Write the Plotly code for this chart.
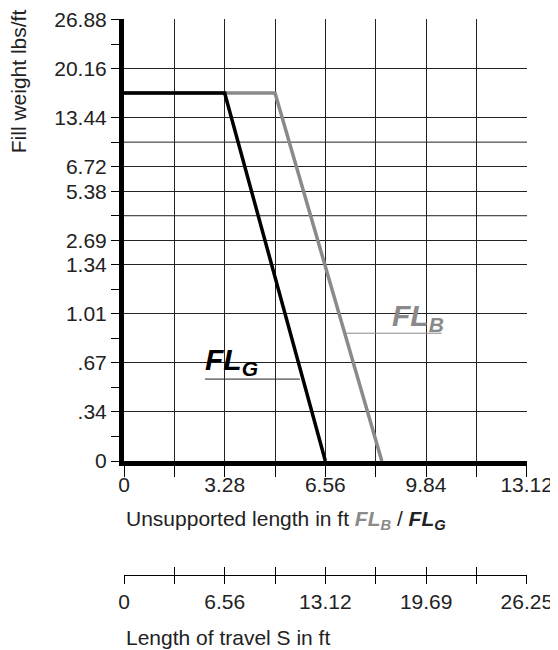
import numpy as np
import plotly.graph_objects as go

# y axis is a piecewise scale: labelled values sit on these grid positions
y_tick_values = [0, 0.34, 0.67, 1.01, 1.34, 2.69, 5.38, 6.72, 13.44, 20.16, 26.88]
y_tick_labels = ['0', '.34', '.67', '1.01', '1.34', '2.69', '5.38', '6.72', '13.44', '20.16', '26.88']
y_tick_pos = [0, 2, 4, 6, 8, 9, 11, 12, 14, 16, 18]
y_minor_pos = [1, 3, 5, 7, 10, 13, 17]
y_extra_grid = [10, 13]

x_ticks = [0, 1.64, 3.28, 4.92, 6.56, 8.2, 9.84, 11.48, 13.12]
x_labels = ['0', '', '3.28', '', '6.56', '', '9.84', '', '13.12']
s_ticks = [0, 3.28, 6.56, 9.84, 13.12, 16.4, 19.69, 22.97, 26.25]
s_labels = ['0', '', '6.56', '', '13.12', '', '19.69', '', '26.25']

# unsupported length (ft) vs fill weight (lbs/ft)
flg_x = [0, 3.28, 6.56]
flg_y = [16.8, 16.8, 0]
flb_x = [0, 4.92, 8.4]
flb_y = [16.8, 16.8, 0]


def ypos(v):
    return list(np.interp(v, y_tick_values, y_tick_pos))


FONT = "Liberation Sans"
INK = "#222222"
GREY = "#8a8a8a"

fig = go.Figure()
fig.add_trace(go.Scatter(x=flb_x, y=ypos(flb_y), mode='lines',
                         line=dict(color=GREY, width=3.5), showlegend=False, hoverinfo='skip'))
fig.add_trace(go.Scatter(x=flg_x, y=ypos(flg_y), mode='lines',
                         line=dict(color='black', width=3.5), showlegend=False, hoverinfo='skip'))
# carrier traces so the travel-length axes are drawn
for ax in ['x2', 'x3']:
    fig.add_trace(go.Scatter(x=[s_ticks[0], s_ticks[-1]], y=[0, 0], xaxis=ax, mode='markers',
                             marker=dict(opacity=0), showlegend=False, hoverinfo='skip'))

for g in y_extra_grid:
    fig.add_shape(type='line', xref='x domain', x0=0, x1=1, yref='y', y0=g, y1=g,
                  line=dict(color=INK, width=1), layer='below')

# leader lines under the curve labels
fig.add_shape(type='line', x0=2.64, x1=5.73, y0=3.34, y1=3.34, line=dict(color=INK, width=1))
fig.add_shape(type='line', x0=7.16, x1=10.35, y0=5.21, y1=5.21, line=dict(color=GREY, width=1))

fig.add_annotation(x=2.6, y=3.4, xref='x', yref='y', xanchor='left', yanchor='bottom', yshift=-3,
                   text='<b><i>FL<sub>G</sub></i></b>', showarrow=False, borderpad=0,
                   font=dict(family=FONT, size=30, color='black'))
fig.add_annotation(x=8.7, y=5.27, xref='x', yref='y', xanchor='left', yanchor='bottom', yshift=-5,
                   text='<b><i>FL<sub>B</sub></i></b>', showarrow=False, borderpad=0,
                   font=dict(family=FONT, size=30, color=GREY))

fig.add_annotation(x=0, y=0.107, xref='x', yref='paper', xanchor='left', yanchor='middle',
                   text="Unsupported length in ft <span style='color:%s'><b><i>FL<sub>B</sub></i></b></span>"
                        " / <b><i>FL<sub>G</sub></i></b>" % GREY,
                   showarrow=False, font=dict(family=FONT, size=21, color=INK))
fig.add_annotation(x=0, y=-0.102, xref='x', yref='paper', xanchor='left', yanchor='middle',
                   text='Length of travel S in ft', showarrow=False,
                   font=dict(family=FONT, size=21, color=INK))
fig.add_annotation(x=-0.263, y=0.889, xref='paper', yref='paper', xanchor='center', yanchor='middle',
                   text='Fill weight lbs/ft', textangle=-90, showarrow=False,
                   font=dict(family=FONT, size=21, color=INK))

# page body has an 8px margin, so the figure is 8px smaller on each axis
fig.update_layout(
    width=550, height=642,
    margin=dict(l=116, r=31, t=11, b=70, autoexpand=False),
    plot_bgcolor='white', paper_bgcolor='white',
    font=dict(family=FONT, size=21, color=INK),
    xaxis=dict(range=[0, 13.13], tickvals=x_ticks, ticktext=x_labels, ticks='outside', ticklen=11,
               tickwidth=1.2, tickcolor='black', showgrid=True, gridcolor=INK, gridwidth=1,
               showline=True, linecolor='black', linewidth=5, zeroline=False, anchor='y',
               automargin=False, ticklabelstandoff=-10, ticklabeloverflow='allow'),
    yaxis=dict(range=[0, 18.02], domain=[0.2121, 1], tickvals=y_tick_pos, ticktext=y_tick_labels,
               ticks='outside', ticklen=8, tickwidth=1.2, tickcolor='black',
               showgrid=True, gridcolor=INK, gridwidth=1, showline=True, linecolor='black',
               linewidth=5, zeroline=False, automargin=False, ticklabeloverflow='allow',
               minor=dict(tickvals=y_minor_pos, ticks='outside', ticklen=8, tickwidth=1.2,
                          tickcolor='black', showgrid=False)),
    xaxis2=dict(range=[0, 26.26], overlaying='x', anchor='free', position=0.0089,
                tickvals=s_ticks, ticktext=s_labels, ticks='outside', ticklen=8, tickwidth=1.2,
                tickcolor='black', showgrid=False, showline=True, linecolor='black', linewidth=1.2,
                zeroline=False, automargin=False, ticklabeloverflow='allow'),
    xaxis3=dict(range=[0, 26.26], overlaying='x', anchor='free', position=0.0089,
                tickvals=s_ticks, ticks='inside', ticklen=8, tickwidth=1.2, tickcolor='black',
                showticklabels=False, showgrid=False, showline=False, zeroline=False,
                automargin=False),
)

fig.write_html("out.html")
